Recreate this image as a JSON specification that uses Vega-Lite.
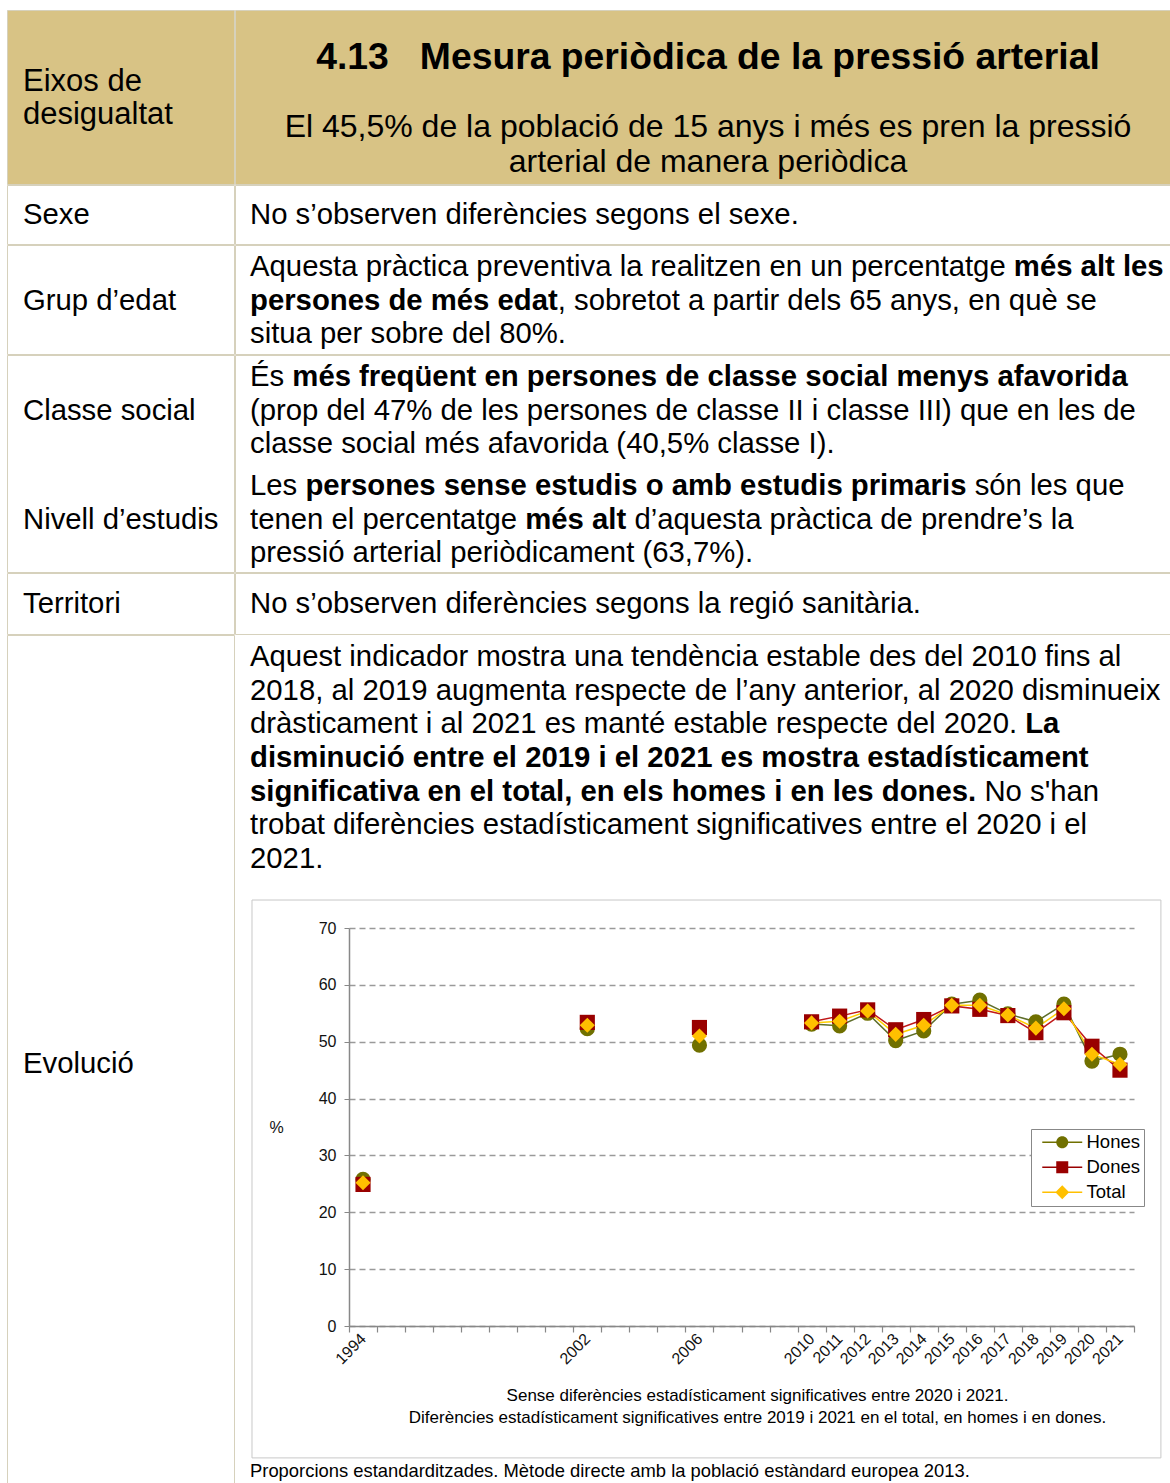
{
  "$schema": "https://vega.github.io/schema/vega-lite/v6.json",
  "padding": {"left": 6, "top": 9, "right": 0, "bottom": 0},
  "background": "white",
  "config": {
    "font": "Liberation Sans",
    "view": {"stroke": "#D6D1BC", "strokeWidth": 1},
    "text": {"font": "Liberation Sans", "color": "#000000"}
  },
  "spacing": -2,
  "vconcat": [
    {
      "spacing": -2,
      "hconcat": [
        {
          "width": 227, "height": 174,
          "view": {"fill": "#D8C385", "stroke": "#D6D1BC"},
          "data": {"values": [{"t": "Eixos de", "line": 0}, {"t": "desigualtat", "line": 1}]},
          "mark": {"type": "text", "align": "left", "baseline": "middle", "fontSize": 31},
          "encoding": {
            "x": {"datum": 0, "type": "quantitative", "scale": {"domain": [-0.546, 7.201], "nice": false, "zero": false}, "axis": null},
            "y": {"field": "line", "type": "quantitative", "scale": {"domain": [-2.1818, 3.0909], "reverse": true, "nice": false, "zero": false}, "axis": null},
            "text": {"field": "t"}
          }
        },
        {
          "width": 935, "height": 174,
          "view": {"fill": "#D8C385", "stroke": "#D6D1BC"},
          "layer": [
            {
              "data": {"values": [{"t": "4.13\u00a0\u00a0 Mesura periòdica de la pressió arterial", "line": 0}]},
              "mark": {"type": "text", "align": "center", "baseline": "middle", "fontSize": 37.3, "fontWeight": "bold"},
              "encoding": {
                "x": {"datum": 15.631, "type": "quantitative", "scale": {"domain": [-0.512, 31.399], "nice": false, "zero": false}, "axis": null},
                "y": {"field": "line", "type": "quantitative", "scale": {"domain": [-1.3833, 3.6311], "reverse": true, "nice": false, "zero": false}, "axis": null},
                "text": {"field": "t"}
              }
            },
            {
              "data": {"values": [
                {"t": "El 45,5% de la població de 15 anys i més es pren la pressió", "line": 2},
                {"t": "arterial de manera periòdica", "line": 3}
              ]},
              "mark": {"type": "text", "align": "center", "baseline": "middle", "fontSize": 32},
              "encoding": {
                "x": {"datum": 15.631, "type": "quantitative", "scale": {"domain": [-0.512, 31.399], "nice": false, "zero": false}, "axis": null},
                "y": {"field": "line", "type": "quantitative", "scale": {"domain": [-1.3833, 3.6311], "reverse": true, "nice": false, "zero": false}, "axis": null},
                "text": {"field": "t"}
              }
            }
          ]
        }
      ]
    },
    {
      "spacing": -2,
      "hconcat": [
        {
          "width": 227, "height": 59,
          "data": {"values": [{"t": "Sexe", "line": 0}]},
          "mark": {"type": "text", "align": "left", "baseline": "middle", "fontSize": 29.3},
          "encoding": {
            "x": {"datum": 0, "type": "quantitative", "scale": {"domain": [-0.546, 7.201], "nice": false, "zero": false}, "axis": null},
            "y": {"field": "line", "type": "quantitative", "scale": {"domain": [-0.8902, 0.8605], "reverse": true, "nice": false, "zero": false}, "axis": null},
            "text": {"field": "t"}
          }
        },
        {
          "width": 935, "height": 59,
          "data": {"values": [{"t": "No s’observen diferències segons el sexe.", "line": 0}]},
          "mark": {"type": "text", "align": "left", "baseline": "middle", "fontSize": 29.3},
          "encoding": {
            "x": {"datum": 0, "type": "quantitative", "scale": {"domain": [-0.512, 31.399], "nice": false, "zero": false}, "axis": null},
            "y": {"field": "line", "type": "quantitative", "scale": {"domain": [-0.8902, 0.8605], "reverse": true, "nice": false, "zero": false}, "axis": null},
            "text": {"field": "t"}
          }
        }
      ]
    },
    {
      "spacing": -2,
      "hconcat": [
        {
          "width": 227, "height": 109,
          "data": {"values": [{"t": "Grup d’edat", "line": 1}]},
          "mark": {"type": "text", "align": "left", "baseline": "middle", "fontSize": 29.3},
          "encoding": {
            "x": {"datum": 0, "type": "quantitative", "scale": {"domain": [-0.546, 7.201], "nice": false, "zero": false}, "axis": null},
            "y": {"field": "line", "type": "quantitative", "scale": {"domain": [-0.6528, 2.5816], "reverse": true, "nice": false, "zero": false}, "axis": null},
            "text": {"field": "t"}
          }
        },
        {
          "width": 935, "height": 109,
          "data": {"values": [
            {"t": "Aquesta pràctica preventiva la realitzen en un percentatge", "line": 0, "at": 0, "strong": false},
            {"t": "més alt les", "line": 0, "at": 26.069, "strong": true},
            {"t": "persones de més edat", "line": 1, "at": 0, "strong": true},
            {"t": ", sobretot a partir dels 65 anys, en què se", "line": 1, "at": 10.504, "strong": false},
            {"t": "situa per sobre del 80%.", "line": 2, "at": 0, "strong": false}
          ]},
          "layer": [
            {
              "transform": [{"filter": "!datum.strong"}],
              "mark": {"type": "text", "align": "left", "baseline": "middle", "fontSize": 29.3},
              "encoding": {
                "x": {"field": "at", "type": "quantitative", "scale": {"domain": [-0.512, 31.399], "nice": false, "zero": false}, "axis": null},
                "y": {"field": "line", "type": "quantitative", "scale": {"domain": [-0.6528, 2.5816], "reverse": true, "nice": false, "zero": false}, "axis": null},
                "text": {"field": "t"}
              }
            },
            {
              "transform": [{"filter": "datum.strong"}],
              "mark": {"type": "text", "align": "left", "baseline": "middle", "fontSize": 29.3, "fontWeight": "bold"},
              "encoding": {
                "x": {"field": "at", "type": "quantitative", "scale": {"domain": [-0.512, 31.399], "nice": false, "zero": false}, "axis": null},
                "y": {"field": "line", "type": "quantitative", "scale": {"domain": [-0.6528, 2.5816], "reverse": true, "nice": false, "zero": false}, "axis": null},
                "text": {"field": "t"}
              }
            }
          ]
        }
      ]
    },
    {
      "spacing": -2,
      "hconcat": [
        {
          "width": 227, "height": 217,
          "data": {"values": [{"t": "Classe social", "line": 0}, {"t": "Nivell d’estudis", "line": 1}]},
          "mark": {"type": "text", "align": "left", "baseline": "middle", "fontSize": 29.3},
          "encoding": {
            "x": {"datum": 0, "type": "quantitative", "scale": {"domain": [-0.546, 7.201], "nice": false, "zero": false}, "axis": null},
            "y": {"field": "line", "type": "quantitative", "scale": {"domain": [-0.5138, 1.477], "reverse": true, "nice": false, "zero": false}, "axis": null},
            "text": {"field": "t"}
          }
        },
        {
          "width": 935, "height": 217,
          "resolve": {"scale": {"y": "independent"}},
          "layer": [
            {
              "data": {"values": [
                {"t": "És", "line": 0, "at": 0},
                {"t": "(prop del 47% de les persones de classe II i classe III) que en les de", "line": 1, "at": 0},
                {"t": "classe social més afavorida (40,5% classe I).", "line": 2, "at": 0}
              ]},
              "mark": {"type": "text", "align": "left", "baseline": "middle", "fontSize": 29.3},
              "encoding": {
                "x": {"field": "at", "type": "quantitative", "scale": {"domain": [-0.512, 31.399], "nice": false, "zero": false}, "axis": null},
                "y": {"field": "line", "type": "quantitative", "scale": {"domain": [-0.6528, 5.7864], "reverse": true, "nice": false, "zero": false}, "axis": null},
                "text": {"field": "t"}
              }
            },
            {
              "data": {"values": [
                {"t": "més freqüent en persones de classe social menys afavorida", "line": 0, "at": 1.445}
              ]},
              "mark": {"type": "text", "align": "left", "baseline": "middle", "fontSize": 29.3, "fontWeight": "bold"},
              "encoding": {
                "x": {"field": "at", "type": "quantitative", "scale": {"domain": [-0.512, 31.399], "nice": false, "zero": false}, "axis": null},
                "y": {"field": "line", "type": "quantitative", "scale": {"domain": [-0.6528, 5.7864], "reverse": true, "nice": false, "zero": false}, "axis": null},
                "text": {"field": "t"}
              }
            },
            {
              "data": {"values": [
                {"t": "Les", "line": 0, "at": 0},
                {"t": "són les que", "line": 0, "at": 24.732},
                {"t": "tenen el percentatge", "line": 1, "at": 0},
                {"t": "d’aquesta pràctica de prendre’s la", "line": 1, "at": 13.119},
                {"t": "pressió arterial periòdicament (63,7%).", "line": 2, "at": 0}
              ]},
              "mark": {"type": "text", "align": "left", "baseline": "middle", "fontSize": 29.3},
              "encoding": {
                "x": {"field": "at", "type": "quantitative", "scale": {"domain": [-0.512, 31.399], "nice": false, "zero": false}, "axis": null},
                "y": {"field": "line", "type": "quantitative", "scale": {"domain": [-3.8872, 2.552], "reverse": true, "nice": false, "zero": false}, "axis": null},
                "text": {"field": "t"}
              }
            },
            {
              "data": {"values": [
                {"t": "persones sense estudis o amb estudis primaris", "line": 0, "at": 1.89},
                {"t": "més alt", "line": 1, "at": 9.395}
              ]},
              "mark": {"type": "text", "align": "left", "baseline": "middle", "fontSize": 29.3, "fontWeight": "bold"},
              "encoding": {
                "x": {"field": "at", "type": "quantitative", "scale": {"domain": [-0.512, 31.399], "nice": false, "zero": false}, "axis": null},
                "y": {"field": "line", "type": "quantitative", "scale": {"domain": [-3.8872, 2.552], "reverse": true, "nice": false, "zero": false}, "axis": null},
                "text": {"field": "t"}
              }
            }
          ]
        }
      ]
    },
    {
      "spacing": -2,
      "hconcat": [
        {
          "width": 227, "height": 61,
          "data": {"values": [{"t": "Territori", "line": 0}]},
          "mark": {"type": "text", "align": "left", "baseline": "middle", "fontSize": 29.3},
          "encoding": {
            "x": {"datum": 0, "type": "quantitative", "scale": {"domain": [-0.546, 7.201], "nice": false, "zero": false}, "axis": null},
            "y": {"field": "line", "type": "quantitative", "scale": {"domain": [-0.9347, 0.8754], "reverse": true, "nice": false, "zero": false}, "axis": null},
            "text": {"field": "t"}
          }
        },
        {
          "width": 935, "height": 61,
          "data": {"values": [{"t": "No s’observen diferències segons la regió sanitària.", "line": 0}]},
          "mark": {"type": "text", "align": "left", "baseline": "middle", "fontSize": 29.3},
          "encoding": {
            "x": {"datum": 0, "type": "quantitative", "scale": {"domain": [-0.512, 31.399], "nice": false, "zero": false}, "axis": null},
            "y": {"field": "line", "type": "quantitative", "scale": {"domain": [-0.9347, 0.8754], "reverse": true, "nice": false, "zero": false}, "axis": null},
            "text": {"field": "t"}
          }
        }
      ]
    },
    {
      "spacing": -1,
      "hconcat": [
        {
          "width": 227, "height": 856,
          "data": {"values": [{"t": "Evolució", "line": 0}]},
          "mark": {"type": "text", "align": "left", "baseline": "middle", "fontSize": 29.3},
          "encoding": {
            "x": {"datum": 0, "type": "quantitative", "scale": {"domain": [-0.546, 7.201], "nice": false, "zero": false}, "axis": null},
            "y": {"field": "line", "type": "quantitative", "scale": {"domain": [-12.73, 12.671], "reverse": true, "nice": false, "zero": false}, "axis": null},
            "text": {"field": "t"}
          }
        },
        {
          "spacing": 0,
          "title": {
            "text": "Proporcions estandarditzades. Mètode directe amb la població estàndard europea 2013.",
            "orient": "bottom", "anchor": "start", "frame": "group",
            "font": "Liberation Sans", "fontSize": 18.4, "fontWeight": "normal", "color": "#000000",
            "dx": 15, "offset": 4
          },
          "vconcat": [
            {
              "width": 935, "height": 264,
              "view": {"stroke": null},
              "data": {"values": [
                {"t": "Aquest indicador mostra una tendència estable des del 2010 fins al", "line": 0, "at": 0, "strong": false},
                {"t": "2018, al 2019 augmenta respecte de l’any anterior, al 2020 disminueix", "line": 1, "at": 0, "strong": false},
                {"t": "dràsticament i al 2021 es manté estable respecte del 2020.", "line": 2, "at": 0, "strong": false},
                {"t": "La", "line": 2, "at": 26.458, "strong": true},
                {"t": "disminució entre el 2019 i el 2021 es mostra estadísticament", "line": 3, "at": 0, "strong": true},
                {"t": "significativa en el total, en els homes i en les dones.", "line": 4, "at": 0, "strong": true},
                {"t": "No s'han", "line": 4, "at": 25.066, "strong": false},
                {"t": "trobat diferències estadísticament significatives entre el 2020 i el", "line": 5, "at": 0, "strong": false},
                {"t": "2021.", "line": 6, "at": 0, "strong": false}
              ]},
              "layer": [
                {
                  "transform": [{"filter": "!datum.strong"}],
                  "mark": {"type": "text", "align": "left", "baseline": "middle", "fontSize": 29.3},
                  "encoding": {
                    "x": {"field": "at", "type": "quantitative", "scale": {"domain": [-0.512, 31.399], "nice": false, "zero": false}, "axis": null},
                    "y": {"field": "line", "type": "quantitative", "scale": {"domain": [-0.6528, 7.1811], "reverse": true, "nice": false, "zero": false}, "axis": null},
                    "text": {"field": "t"}
                  }
                },
                {
                  "transform": [{"filter": "datum.strong"}],
                  "mark": {"type": "text", "align": "left", "baseline": "middle", "fontSize": 29.3, "fontWeight": "bold"},
                  "encoding": {
                    "x": {"field": "at", "type": "quantitative", "scale": {"domain": [-0.512, 31.399], "nice": false, "zero": false}, "axis": null},
                    "y": {"field": "line", "type": "quantitative", "scale": {"domain": [-0.6528, 7.1811], "reverse": true, "nice": false, "zero": false}, "axis": null},
                    "text": {"field": "t"}
                  }
                }
              ]
            },
            {
              "spacing": 0,
              "hconcat": [
                {
                  "width": 16, "height": 10,
                  "view": {"stroke": null, "fill": "white"},
                  "data": {"values": []},
                  "mark": "point",
                  "encoding": {}
                },
                {
                  "width": 785, "height": 398,
                  "view": {"stroke": null},
                  "data": {"values": [
                    {"year": 1994, "serie": "Hones", "pct": 25.8},
                    {"year": 2002, "serie": "Hones", "pct": 52.3},
                    {"year": 2006, "serie": "Hones", "pct": 49.4},
                    {"year": 2010, "serie": "Hones", "pct": 53.1},
                    {"year": 2011, "serie": "Hones", "pct": 52.8},
                    {"year": 2012, "serie": "Hones", "pct": 55.0},
                    {"year": 2013, "serie": "Hones", "pct": 50.2},
                    {"year": 2014, "serie": "Hones", "pct": 51.9},
                    {"year": 2015, "serie": "Hones", "pct": 56.6},
                    {"year": 2016, "serie": "Hones", "pct": 57.3},
                    {"year": 2017, "serie": "Hones", "pct": 54.9},
                    {"year": 2018, "serie": "Hones", "pct": 53.5},
                    {"year": 2019, "serie": "Hones", "pct": 56.6},
                    {"year": 2020, "serie": "Hones", "pct": 46.6},
                    {"year": 2021, "serie": "Hones", "pct": 47.8},
                    {"year": 1994, "serie": "Dones", "pct": 24.9},
                    {"year": 2002, "serie": "Dones", "pct": 53.4},
                    {"year": 2006, "serie": "Dones", "pct": 52.5},
                    {"year": 2010, "serie": "Dones", "pct": 53.5},
                    {"year": 2011, "serie": "Dones", "pct": 54.5},
                    {"year": 2012, "serie": "Dones", "pct": 55.6},
                    {"year": 2013, "serie": "Dones", "pct": 52.1},
                    {"year": 2014, "serie": "Dones", "pct": 53.9},
                    {"year": 2015, "serie": "Dones", "pct": 56.3},
                    {"year": 2016, "serie": "Dones", "pct": 55.7},
                    {"year": 2017, "serie": "Dones", "pct": 54.6},
                    {"year": 2018, "serie": "Dones", "pct": 51.6},
                    {"year": 2019, "serie": "Dones", "pct": 55.1},
                    {"year": 2020, "serie": "Dones", "pct": 49.2},
                    {"year": 2021, "serie": "Dones", "pct": 45.0},
                    {"year": 1994, "serie": "Total", "pct": 25.2},
                    {"year": 2002, "serie": "Total", "pct": 52.9},
                    {"year": 2006, "serie": "Total", "pct": 51.0},
                    {"year": 2010, "serie": "Total", "pct": 53.3},
                    {"year": 2011, "serie": "Total", "pct": 53.6},
                    {"year": 2012, "serie": "Total", "pct": 55.4},
                    {"year": 2013, "serie": "Total", "pct": 51.3},
                    {"year": 2014, "serie": "Total", "pct": 52.9},
                    {"year": 2015, "serie": "Total", "pct": 56.4},
                    {"year": 2016, "serie": "Total", "pct": 56.4},
                    {"year": 2017, "serie": "Total", "pct": 54.7},
                    {"year": 2018, "serie": "Total", "pct": 52.4},
                    {"year": 2019, "serie": "Total", "pct": 55.8},
                    {"year": 2020, "serie": "Total", "pct": 47.8},
                    {"year": 2021, "serie": "Total", "pct": 46.0}
                  ]},
                  "resolve": {"axis": {"x": "independent"}, "scale": {"fill": "independent", "shape": "independent"}},
                  "layer": [
                    {
                      "data": {"values": [{"box": "frame"}]},
                      "mark": {"type": "rect", "filled": false, "stroke": "#C8C8C8", "strokeWidth": 1, "clip": false},
                      "encoding": {
                        "x": {"datum": 1990.04, "type": "quantitative", "scale": {"domain": [1993.5, 2021.5], "nice": false, "zero": false}, "axis": null},
                        "x2": {"datum": 2022.46},
                        "y": {"datum": -23.2, "type": "quantitative", "scale": {"domain": [0, 70], "nice": false, "zero": false}},
                        "y2": {"datum": 74.92}
                      }
                    },
                    {
                      "transform": [{"filter": "datum.year >= 2010"}],
                      "mark": {"type": "line", "strokeWidth": 1.5},
                      "encoding": {
                        "x": {"field": "year", "type": "quantitative", "scale": {"domain": [1993.5, 2021.5], "nice": false, "zero": false},
                          "axis": {"orient": "bottom", "values": [1993.5, 1994.5, 1995.5, 1996.5, 1997.5, 1998.5, 1999.5, 2000.5, 2001.5, 2002.5, 2003.5, 2004.5, 2005.5, 2006.5, 2007.5, 2008.5, 2009.5, 2010.5, 2011.5, 2012.5, 2013.5, 2014.5, 2015.5, 2016.5, 2017.5, 2018.5, 2019.5, 2020.5, 2021.5],
                            "labels": false, "ticks": true, "tickSize": 6, "tickColor": "#888888", "tickWidth": 1.2, "domain": false, "grid": false, "title": null}},
                        "y": {"field": "pct", "type": "quantitative", "scale": {"domain": [0, 70], "nice": false, "zero": false}},
                        "color": {"field": "serie", "type": "nominal", "scale": {"domain": ["Hones", "Dones", "Total"], "range": ["#5E6E2A", "#C01818", "#FFD000"]}, "legend": null}
                      }
                    },
                    {
                      "mark": {"type": "point", "filled": true, "size": 230, "opacity": 1},
                      "encoding": {
                        "x": {"field": "year", "type": "quantitative", "scale": {"domain": [1993.5, 2021.5], "nice": false, "zero": false},
                          "axis": {"orient": "bottom", "values": [1994, 2002, 2006, 2010, 2011, 2012, 2013, 2014, 2015, 2016, 2017, 2018, 2019, 2020, 2021], "format": "d",
                            "labelAngle": -45, "labelAlign": "right", "labelBaseline": "middle", "labelPadding": 10, "labelFontSize": 16, "labelColor": "#111111",
                            "ticks": false, "domain": true, "domainColor": "#888888", "domainWidth": 1.5, "grid": false, "labelOverlap": false,
                            "title": ["Sense diferències estadísticament significatives entre 2020 i 2021.", "Diferències estadísticament significatives entre 2019 i 2021 en el total, en homes i en dones."],
                            "titleFontSize": 17, "titleFontWeight": "normal", "titleColor": "#000000", "titleLineHeight": 22, "titlePadding": 21, "titleX": 408, "titleAnchor": "middle"}},
                        "y": {"field": "pct", "type": "quantitative", "scale": {"domain": [0, 70], "nice": false, "zero": false},
                          "axis": {"values": [0, 10, 20, 30, 40, 50, 60, 70], "grid": true, "gridDash": [6, 4], "gridColor": "#9A9A9A", "gridWidth": 1.3,
                            "tickSize": 5, "tickColor": "#888888", "domainColor": "#888888", "domainWidth": 1.5, "labelFontSize": 16, "labelColor": "#111111", "labelPadding": 8,
                            "title": "%", "titleAngle": 0, "titleFontSize": 16, "titleFontWeight": "normal", "titleColor": "#111111", "titleX": -73, "titleY": 199, "titleAlign": "center", "titleBaseline": "middle"}},
                        "fill": {"field": "serie", "type": "nominal", "scale": {"domain": ["Hones", "Dones", "Total"], "range": ["#707000", "#990000", "#FFC000"]}, "legend": null},
                        "shape": {"field": "serie", "type": "nominal", "scale": {"domain": ["Hones", "Dones", "Total"], "range": ["circle", "square", "diamond"]}, "legend": null}
                      }
                    },
                    {
                      "transform": [{"filter": "false"}],
                      "mark": {"type": "point", "filled": true, "size": 144},
                      "encoding": {
                        "fill": {"field": "serie", "type": "nominal", "scale": {"domain": ["Hones", "Dones", "Total"], "range": ["#707000", "#990000", "#FFC000"]},
                          "legend": {"orient": "none", "legendX": 682, "legendY": 201, "title": null, "strokeColor": "#888888", "fillColor": "#FFFFFF", "padding": 4,
                            "labelFontSize": 18.5, "labelColor": "#000000", "symbolSize": 144, "symbolStrokeWidth": 0, "symbolOpacity": 1, "rowPadding": 6, "symbolOffset": 18, "labelOffset": 15}},
                        "shape": {"field": "serie", "type": "nominal", "scale": {"domain": ["Hones", "Dones", "Total"], "range": [
                            "M-3.33,-0.12H3.33V0.12H-3.33Z M1,0A1,1,0,1,1,-1,0A1,1,0,1,1,1,0Z",
                            "M-3.33,-0.12H3.33V0.12H-3.33Z M-1,-1H1V1H-1Z",
                            "M-3.33,-0.12H3.33V0.12H-3.33Z M0,-1.15L1.15,0L0,1.15L-1.15,0Z"]},
                          "legend": {"orient": "none", "legendX": 682, "legendY": 201, "title": null, "strokeColor": "#888888", "fillColor": "#FFFFFF", "padding": 4,
                            "labelFontSize": 18.5, "labelColor": "#000000", "symbolSize": 144, "symbolStrokeWidth": 0, "symbolOpacity": 1, "rowPadding": 6, "symbolOffset": 18, "labelOffset": 15}}
                      }
                    }
                  ]
                }
              ]
            }
          ]
        }
      ]
    }
  ]
}
